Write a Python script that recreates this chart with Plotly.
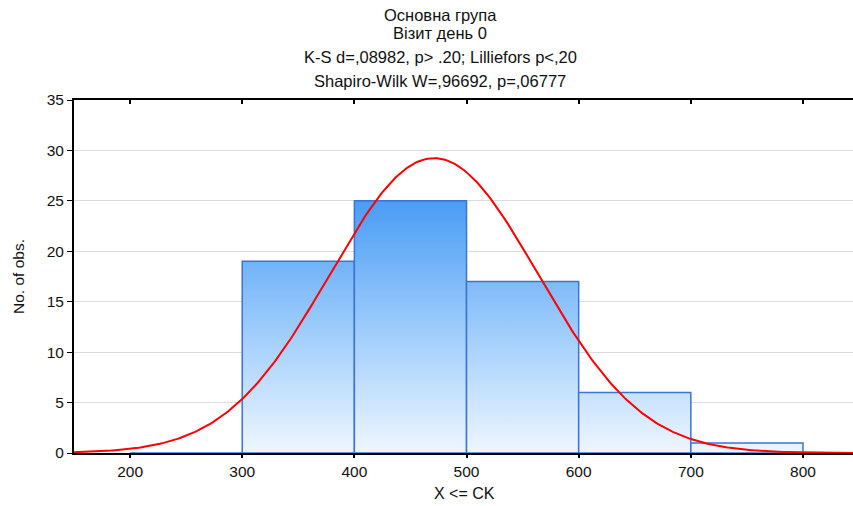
import numpy as np
import plotly.graph_objects as go

# ---- data ----
bin_edges = [200, 300, 400, 500, 600, 700, 800]
counts = [0, 19, 25, 17, 6, 1]
fit_mean = 471.0
fit_sd = 92.8
n_obs = sum(counts)
bin_width = 100

title_lines = ["Основна група", "Візит день 0",
               "K-S d=,08982, p> .20; Lilliefors p<,20",
               "Shapiro-Wilk W=,96692, p=,06777"]
x_title = "X <= CK"
y_title = "No. of obs."
x_ticks = [200, 300, 400, 500, 600, 700, 800]
y_ticks = [0, 5, 10, 15, 20, 25, 30, 35]

# ---- layout geometry ----
W, H = 853, 506
ML, MR, MT, MB = 74, 0, 100, 53
PW, PH = W - ML - MR, H - MT - MB
X_RANGE = [150, 844.6]
Y_RANGE = [0, 35]

def px_x(p):
    return (p - ML) / PW

def px_y(p):
    return (H - MB - p) / PH

FONT = "Liberation Sans, Arial, sans-serif"
fig = go.Figure()

grad = dict(type="vertical", start=0, stop=25,
            colorscale=[[0, "#eef6ff"], [0.5, "#9ccbfb"], [1, "#4a9cf5"]])
for i, c in enumerate(counts):
    a, b = bin_edges[i], bin_edges[i + 1]
    fig.add_trace(go.Scatter(
        x=[a, a, b, b, a], y=[0, c, c, 0, 0], mode="lines",
        fill="toself", fillgradient=grad,
        line=dict(color="#3b73d6", width=1.5),
        hoverinfo="skip", showlegend=False))

xs = np.linspace(X_RANGE[0], X_RANGE[1], 400)
ys = n_obs * bin_width / (fit_sd * np.sqrt(2 * np.pi)) * np.exp(-0.5 * ((xs - fit_mean) / fit_sd) ** 2)
fig.add_trace(go.Scatter(x=xs, y=ys, mode="lines",
                         line=dict(color="#ff0000", width=2),
                         hoverinfo="skip", showlegend=False))

# invisible trace for top tick axis
fig.add_trace(go.Scatter(x=[X_RANGE[0]], y=[0], xaxis="x2", mode="markers",
                         marker=dict(opacity=0), hoverinfo="skip", showlegend=False))

annotations = []
title_y = [15, 33, 57, 81]
for t, py in zip(title_lines, title_y):
    annotations.append(dict(text=t, x=px_x(440), y=px_y(py), xref="paper", yref="paper",
                            xanchor="center", yanchor="middle", showarrow=False,
                            font=dict(family=FONT, size=16.5, color="#111")))
annotations.append(dict(text=x_title, x=px_x(465), y=px_y(493), xref="paper", yref="paper",
                        xanchor="center", yanchor="middle", showarrow=False,
                        font=dict(family=FONT, size=16, color="#111")))
annotations.append(dict(text=y_title, x=px_x(18), y=px_y(277), xref="paper", yref="paper",
                        xanchor="center", yanchor="middle", showarrow=False, textangle=-90,
                        font=dict(family=FONT, size=15.5, color="#111")))

fig.update_layout(
    width=W, height=H, margin=dict(l=ML, r=MR, t=MT, b=MB),
    paper_bgcolor="white", plot_bgcolor="white",
    font=dict(family=FONT, size=15, color="#111"),
    xaxis=dict(range=X_RANGE, tickvals=x_ticks, showgrid=False, zeroline=False,
               showline=True, linecolor="#000", linewidth=2, mirror=True,
               ticks="outside", ticklen=3, tickwidth=2, tickcolor="#000",
               tickfont=dict(size=15.5)),
    xaxis2=dict(range=X_RANGE, overlaying="x", side="top", tickvals=x_ticks,
                showticklabels=False, showgrid=False, zeroline=False,
                ticks="inside", ticklen=4, tickwidth=2, tickcolor="#000", showline=False),
    yaxis=dict(range=Y_RANGE, tickvals=y_ticks, showgrid=True, gridcolor="#dcdcdc",
               gridwidth=1, zeroline=False, showline=True, linecolor="#000", linewidth=2,
               ticks="outside", ticklen=5, tickwidth=1, tickcolor="#000",
               tickfont=dict(size=15.5)),
    annotations=annotations,
)

fig.write_html("out.html")
